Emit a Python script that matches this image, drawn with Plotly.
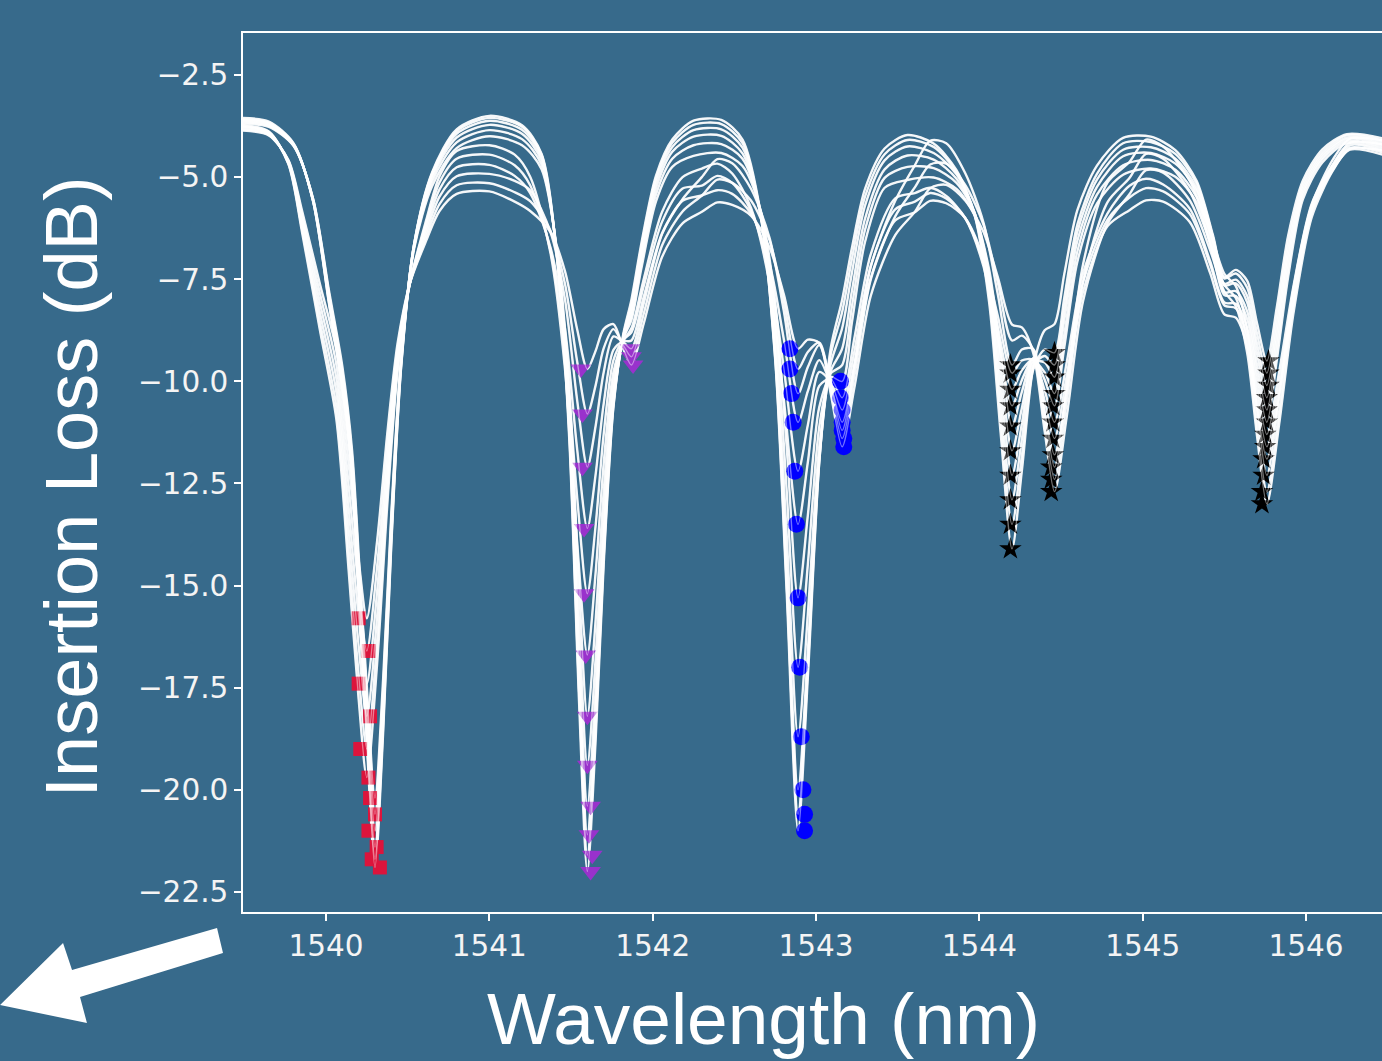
import plotly.graph_objects as go

# ---------------- data (read / estimated from the reference picture) ----------------
# sample wavelengths for the six deeper spectra
wavelength_nm_a = [
    1539.49, 1539.65, 1539.8, 1539.92, 1540.02, 1540.1, 1540.16, 1540.21, 1540.25, 1540.30,
    1540.35, 1540.40, 1540.46, 1540.54, 1540.65, 1540.8,
    1541.0, 1541.2, 1541.32, 1541.42, 1541.49, 1541.55, 1541.6, 1541.65, 1541.7, 1541.76,
    1541.82, 1541.87, 1541.93, 1542.02, 1542.12,
    1542.25, 1542.42, 1542.55, 1542.66, 1542.75, 1542.82, 1542.89, 1542.95, 1543.02, 1543.09,
    1543.16, 1543.22, 1543.3, 1543.42,
    1543.56, 1543.72, 1543.86, 1543.97, 1544.06, 1544.13, 1544.2, 1544.26, 1544.33, 1544.4,
    1544.46, 1544.52, 1544.6, 1544.72,
    1544.88, 1545.05, 1545.2, 1545.33, 1545.43, 1545.5, 1545.57, 1545.64, 1545.7, 1545.76,
    1545.82, 1545.89, 1545.98, 1546.1, 1546.25, 1546.47,
]
# sample wavelengths for the six shallower (broader-dip) spectra
wavelength_nm_b = [
    1539.49, 1539.65, 1539.77, 1539.854, 1539.963, 1540.063, 1540.138, 1540.20, 1540.25, 1540.313,
    1540.375, 1540.438, 1540.513, 1540.613, 1540.695, 1540.8,
    1541.0, 1541.155, 1541.25, 1541.375, 1541.463, 1541.538, 1541.6, 1541.65, 1541.7, 1541.76,
    1541.82, 1541.87, 1541.945, 1542.058, 1542.183,
    1542.301, 1542.396, 1542.487, 1542.603, 1542.715, 1542.803, 1542.89, 1542.95, 1543.02, 1543.09,
    1543.16, 1543.235, 1543.335, 1543.485,
    1543.605, 1543.699, 1543.797, 1543.913, 1544.025, 1544.113, 1544.2, 1544.26, 1544.33, 1544.4,
    1544.46, 1544.535, 1544.635, 1544.785,
    1544.919, 1545.02, 1545.125, 1545.288, 1545.413, 1545.5, 1545.57, 1545.64, 1545.7, 1545.76,
    1545.835, 1545.923, 1546.035, 1546.163, 1546.268, 1546.47,
]

il_curve_01 = [-3.55, -3.64, -4.16, -5.57, -8.14, -10.16, -12.45, -16.03, -18.87, -21.9, -18.59, -13.99, -9.66, -6.63, -4.88, -3.83,
               -3.5, -3.73, -4.43, -7.21, -11.46, -17.91, -22.0, -18.85, -14.49, -10.62, -8.84, -8.0, -6.64, -4.97, -4.08,
               -3.62, -3.6, -4.08, -5.86, -9.47, -15.13, -21.0, -17.24, -11.98, -9.19, -8.0, -6.73, -5.29, -4.3,
               -3.97, -4.18, -4.83, -5.92, -8.07, -11.25, -14.1, -12.19, -9.65, -8.75, -8.6, -7.37, -5.81, -4.72,
               -4.04, -4.01, -4.34, -5.09, -6.42, -7.45, -7.27, -7.54, -8.58, -9.5, -8.21, -6.44, -5.09, -4.32, -3.95, -4.05]
il_curve_02 = [-3.58, -3.67, -4.18, -5.57, -8.11, -10.1, -12.37, -15.9, -18.71, -21.7, -18.43, -13.9, -9.63, -6.64, -4.91, -3.88,
               -3.55, -3.77, -4.46, -7.17, -11.31, -17.61, -21.6, -18.54, -14.32, -10.58, -8.89, -8.11, -6.74, -5.05, -4.16,
               -3.72, -3.7, -4.17, -5.91, -9.41, -14.9, -20.6, -17.0, -11.96, -9.35, -8.3, -7.0, -5.48, -4.44,
               -4.09, -4.26, -4.87, -5.9, -7.88, -10.83, -13.5, -11.83, -9.71, -9.22, -9.3, -7.95, -6.16, -4.92,
               -4.17, -4.14, -4.43, -5.16, -6.47, -7.48, -7.36, -7.71, -8.83, -9.8, -8.47, -6.64, -5.18, -4.39, -3.98, -4.1]
il_curve_03 = [-3.6, -3.69, -4.19, -5.56, -8.05, -10.01, -12.23, -15.7, -18.46, -21.4, -18.2, -13.75, -9.58, -6.64, -4.95, -3.94,
               -3.62, -3.84, -4.52, -7.15, -11.16, -17.23, -21.1, -18.15, -14.09, -10.51, -8.92, -8.2, -6.85, -5.15, -4.26,
               -3.85, -3.83, -4.28, -5.93, -9.27, -14.53, -20.0, -16.6, -11.89, -9.57, -8.7, -7.34, -5.7, -4.59,
               -4.25, -4.41, -4.93, -5.86, -7.7, -10.42, -12.9, -11.42, -9.61, -9.38, -9.6, -8.22, -6.34, -5.06,
               -4.33, -4.27, -4.55, -5.27, -6.59, -7.61, -7.51, -7.91, -9.08, -10.1, -8.72, -6.83, -5.27, -4.45, -4.03, -4.15]
il_curve_04 = [-3.63, -3.72, -4.2, -5.54, -7.97, -9.88, -12.05, -15.44, -18.13, -21.0, -17.89, -13.57, -9.51, -6.66, -5.02, -4.03,
               -3.72, -3.94, -4.6, -7.11, -10.92, -16.71, -20.4, -17.61, -13.77, -10.4, -8.96, -8.3, -6.97, -5.28, -4.38,
               -4.01, -3.99, -4.42, -5.9, -8.95, -13.72, -18.7, -15.7, -11.59, -9.75, -9.2, -7.78, -6.02, -4.81,
               -4.47, -4.57, -5.04, -5.87, -7.55, -10.02, -12.3, -11.04, -9.53, -9.54, -9.9, -8.49, -6.56, -5.24,
               -4.49, -4.41, -4.67, -5.34, -6.64, -7.65, -7.6, -8.07, -9.32, -10.4, -8.97, -7.01, -5.36, -4.51, -4.07, -4.2]
il_curve_05 = [-3.66, -3.74, -4.22, -5.52, -7.9, -9.76, -11.88, -15.18, -17.8, -20.6, -17.59, -13.4, -9.46, -6.7, -5.11, -4.15,
               -3.85, -4.07, -4.7, -7.04, -10.59, -15.96, -19.4, -16.83, -13.29, -10.23, -8.96, -8.4, -7.1, -5.43, -4.55,
               -4.22, -4.19, -4.55, -5.82, -8.49, -12.64, -17.0, -14.48, -11.11, -9.81, -9.6, -8.16, -6.29, -5.02,
               -4.75, -4.78, -5.14, -5.87, -7.4, -9.63, -11.7, -10.66, -9.5, -9.78, -10.3, -8.86, -6.82, -5.43,
               -4.71, -4.58, -4.82, -5.49, -6.8, -7.82, -7.79, -8.29, -9.59, -10.7, -9.24, -7.23, -5.44, -4.57, -4.12, -4.25]
il_curve_06 = [-3.69, -3.77, -4.23, -5.51, -7.82, -9.63, -11.7, -14.92, -17.48, -20.2, -17.28, -13.23, -9.43, -6.75, -5.22, -4.29,
               -4.0, -4.22, -4.81, -6.96, -10.2, -15.07, -18.2, -15.89, -12.71, -10.0, -8.95, -8.5, -7.25, -5.6, -4.75,
               -4.48, -4.41, -4.73, -5.8, -8.06, -11.58, -15.3, -13.28, -10.63, -9.89, -10.0, -8.55, -6.59, -5.26,
               -5.07, -5.01, -5.29, -5.93, -7.27, -9.25, -11.1, -10.26, -9.43, -9.96, -10.6, -9.16, -7.07, -5.65,
               -4.94, -4.79, -4.99, -5.62, -6.9, -7.89, -7.91, -8.48, -9.84, -11.0, -9.51, -7.45, -5.55, -4.64, -4.17, -4.3]
il_curve_07 = [-3.72, -3.88, -4.68, -6.36, -8.75, -10.91, -14.59, -17.78, -19.7, -16.91, -13.04, -9.78, -7.61, -6.06, -4.98, -4.36,
               -4.22, -4.45, -4.99, -6.87, -9.69, -13.96, -16.7, -14.72, -12.02, -9.77, -9.01, -8.7, -7.5, -5.85, -5.0,
               -4.79, -4.67, -4.91, -5.76, -7.6, -10.45, -13.5, -11.98, -10.11, -9.94, -10.4, -8.94, -6.89, -5.52,
               -5.39, -5.26, -5.46, -6.0, -7.18, -8.94, -10.6, -9.97, -9.44, -10.22, -11.0, -9.53, -7.35, -5.89,
               -5.21, -5.04, -5.18, -5.77, -7.06, -8.07, -8.1, -8.7, -10.1, -11.3, -9.77, -7.67, -5.65, -4.7, -4.22, -4.35]
il_curve_08 = [-3.75, -3.9, -4.67, -6.27, -8.55, -10.61, -14.12, -17.17, -19.0, -16.37, -12.72, -9.66, -7.61, -6.15, -5.13, -4.55,
               -4.45, -4.71, -5.2, -6.81, -9.22, -12.85, -15.2, -13.56, -11.3, -9.48, -8.98, -8.8, -7.67, -6.09, -5.28,
               -5.21, -4.97, -5.14, -5.83, -7.34, -9.68, -12.2, -11.07, -9.77, -10.01, -10.7, -9.26, -7.18, -5.79,
               -5.6, -5.39, -5.52, -6.0, -7.08, -8.67, -10.2, -9.73, -9.46, -10.48, -11.4, -9.86, -7.57, -6.04,
               -5.5, -5.27, -5.35, -5.9, -7.14, -8.14, -8.21, -8.89, -10.36, -11.6, -10.04, -7.88, -5.74, -4.76, -4.28, -4.4]
il_curve_09 = [-3.77, -3.91, -4.64, -6.15, -8.32, -10.26, -13.58, -16.47, -18.2, -15.76, -12.36, -9.51, -7.61, -6.25, -5.3, -4.76,
               -4.7, -4.97, -5.39, -6.73, -8.7, -11.67, -13.6, -12.3, -10.55, -9.23, -9.02, -9.0, -7.93, -6.37, -5.58,
               -5.45, -5.32, -5.41, -5.9, -7.11, -8.97, -11.0, -10.24, -9.48, -10.08, -11.0, -9.58, -7.47, -6.06,
               -5.86, -5.58, -5.64, -6.0, -6.98, -8.4, -9.8, -9.49, -9.48, -10.75, -11.8, -10.21, -7.8, -6.2,
               -5.81, -5.57, -5.6, -6.1, -7.35, -8.36, -8.44, -9.14, -10.63, -11.9, -10.31, -8.12, -5.86, -4.82, -4.33, -4.45]
il_curve_10 = [-3.8, -3.94, -4.62, -6.04, -8.08, -9.92, -13.05, -15.77, -17.4, -15.14, -12.0, -9.37, -7.61, -6.36, -5.48, -4.98,
               -4.92, -5.09, -5.32, -6.35, -7.99, -10.47, -12.1, -11.11, -9.78, -8.9, -9.04, -9.2, -8.1, -6.39, -5.54,
               -5.0, -4.56, -4.66, -5.29, -6.48, -8.28, -10.3, -9.65, -9.11, -10.03, -11.2, -9.6, -7.19, -5.58,
               -4.71, -4.11, -4.17, -4.9, -6.11, -7.87, -9.6, -9.22, -9.21, -10.78, -12.1, -10.11, -7.13, -5.13,
               -4.63, -4.08, -4.25, -5.09, -6.34, -7.37, -7.67, -8.74, -10.69, -12.3, -10.4, -7.74, -5.69, -4.58, -4.06, -4.1]
il_curve_11 = [-3.83, -3.96, -4.6, -5.94, -7.85, -9.58, -12.51, -15.07, -16.6, -14.53, -11.65, -9.23, -7.61, -6.46, -5.66, -5.2,
               -5.15, -5.37, -5.59, -6.32, -7.61, -9.52, -10.8, -10.11, -9.19, -8.72, -9.11, -9.4, -8.35, -6.67, -5.84,
               -5.45, -5.06, -5.14, -5.58, -6.54, -8.03, -9.7, -9.28, -9.05, -10.15, -11.4, -9.86, -7.51, -5.96,
               -5.25, -4.69, -4.67, -5.19, -6.16, -7.58, -9.0, -8.88, -9.22, -11.0, -12.4, -10.49, -7.56, -5.61,
               -5.02, -4.43, -4.55, -5.35, -6.61, -7.64, -7.96, -9.07, -11.05, -12.7, -10.76, -8.06, -5.82, -4.7, -4.16, -4.2]
il_curve_12 = [-3.86, -3.98, -4.58, -5.83, -7.62, -9.23, -11.98, -14.37, -15.8, -13.91, -11.29, -9.08, -7.61, -6.56, -5.83, -5.41,
               -5.35, -5.6, -5.83, -6.35, -7.3, -8.73, -9.7, -9.26, -8.72, -8.6, -9.2, -9.6, -8.59, -6.95, -6.13,
               -5.85, -5.62, -5.68, -5.95, -6.72, -7.87, -9.2, -8.98, -9.06, -10.3, -11.6, -10.15, -7.91, -6.42,
               -5.85, -5.27, -5.19, -5.57, -6.34, -7.45, -8.61, -8.68, -9.31, -11.23, -12.7, -10.86, -8.03, -6.13,
               -5.42, -4.83, -4.89, -5.57, -6.79, -7.8, -8.16, -9.31, -11.34, -13.0, -11.06, -8.33, -5.98, -4.85, -4.31, -4.35]

# resonance minima markers
red_square_wl = [1540.33, 1540.28, 1540.31, 1540.26, 1540.30, 1540.27, 1540.26, 1540.21, 1540.27, 1540.20, 1540.26, 1540.20]
red_square_il = [-21.9, -21.7, -21.4, -21.0, -20.6, -20.2, -19.7, -19.0, -18.2, -17.4, -16.6, -15.8]

purple_tri_wl = [1541.62, 1541.63, 1541.61, 1541.62, 1541.60, 1541.60, 1541.59, 1541.58, 1541.58, 1541.57, 1541.57, 1541.56,
                 1541.86, 1541.87, 1541.88]
purple_tri_il = [-22.0, -21.6, -21.1, -20.4, -19.4, -18.2, -16.7, -15.2, -13.6, -12.1, -10.8, -9.7,
                 -9.2, -9.4, -9.6]

blue_circle_wl = [1542.93, 1542.93, 1542.92, 1542.91, 1542.90, 1542.89, 1542.88, 1542.87, 1542.86, 1542.85, 1542.84, 1542.84,
                  1543.15, 1543.15, 1543.16, 1543.16, 1543.16, 1543.17, 1543.17]
blue_circle_il = [-21.0, -20.6, -20.0, -18.7, -17.0, -15.3, -13.5, -12.2, -11.0, -10.3, -9.7, -9.2,
                  -10.0, -10.4, -10.7, -11.0, -11.2, -11.4, -11.6]

black_star_wl = [1544.19, 1544.19, 1544.19, 1544.19, 1544.19, 1544.19, 1544.19, 1544.19, 1544.19, 1544.19,
                 1544.46, 1544.46, 1544.46, 1544.46, 1544.45, 1544.45, 1544.45, 1544.45, 1544.44, 1544.44, 1544.44,
                 1545.77, 1545.77, 1545.77, 1545.76, 1545.76, 1545.76, 1545.75, 1545.75, 1545.74, 1545.74, 1545.73, 1545.73]
black_star_il = [-14.1, -13.5, -12.9, -12.3, -11.7, -11.1, -10.6, -10.2, -9.8, -9.6,
                 -9.3, -9.6, -9.9, -10.3, -10.6, -11.0, -11.4, -11.8, -12.1, -12.4, -12.7,
                 -9.5, -9.8, -10.1, -10.4, -10.7, -11.0, -11.3, -11.6, -11.9, -12.3, -12.7, -13.0]

x_ticks = [1540, 1541, 1542, 1543, 1544, 1545, 1546]
y_ticks = [-2.5, -5.0, -7.5, -10.0, -12.5, -15.0, -17.5, -20.0, -22.5]

spectra = [(wavelength_nm_a, il_curve_01), (wavelength_nm_a, il_curve_02), (wavelength_nm_a, il_curve_03),
           (wavelength_nm_a, il_curve_04), (wavelength_nm_a, il_curve_05), (wavelength_nm_a, il_curve_06),
           (wavelength_nm_b, il_curve_07), (wavelength_nm_b, il_curve_08), (wavelength_nm_b, il_curve_09),
           (wavelength_nm_b, il_curve_10), (wavelength_nm_b, il_curve_11), (wavelength_nm_b, il_curve_12)]

# ---------------- figure ----------------
BG = "#376a8b"
fig = go.Figure()


def add_lines(color, width):
    for wl, il in spectra:
        fig.add_trace(go.Scatter(x=wl, y=il, mode="lines",
                                 line=dict(color=color, width=width, shape="spline", smoothing=0.8),
                                 showlegend=False, hoverinfo="skip"))


add_lines("rgba(255,255,255,0.92)", 2.4)

marker_sets = [
    (red_square_wl, red_square_il, "square", "#dc143c", 14),
    (purple_tri_wl, purple_tri_il, "triangle-down", "#9932cc", 18),
    (blue_circle_wl, blue_circle_il, "circle", "#0000ff", 17),
    (black_star_wl, black_star_il, "star", "#000000", 17),
]
for xs, ys, sym, col, sz in marker_sets:
    fig.add_trace(go.Scatter(x=xs, y=ys, mode="markers",
                             marker=dict(symbol=sym, color=col, size=sz, line=dict(width=0)),
                             showlegend=False, hoverinfo="skip"))

# faint white strokes crossing the markers, as in the original rendering
add_lines("rgba(255,255,255,0.45)", 1.4)

tick_font = dict(family="DejaVu Sans", size=29.5, color="#f4f4f4")

fig.update_layout(
    width=1382, height=1061,
    margin=dict(l=243, r=0, t=33, b=149, pad=0),
    paper_bgcolor=BG, plot_bgcolor=BG,
    xaxis=dict(range=[1539.492, 1546.465], tickvals=x_ticks, tickformat="d",
               showgrid=False, zeroline=False, showline=True, linecolor="white", linewidth=1.6,
               mirror=True, ticks="outside", ticklen=7, tickwidth=1.5, tickcolor="white",
               tickfont=tick_font),
    yaxis=dict(range=[-22.99, -1.472], tickvals=y_ticks, tickformat=".1f",
               showgrid=False, zeroline=False, showline=True, linecolor="white", linewidth=1.6,
               mirror=False, ticks="outside", ticklen=7, tickwidth=1.5, tickcolor="white",
               tickfont=tick_font),
    annotations=[
        dict(text="Insertion Loss (dB)", xref="paper", yref="paper", x=-0.1506, y=0.4835,
             xanchor="center", yanchor="middle", textangle=-90, showarrow=False,
             font=dict(family="Liberation Sans", size=74, color="white")),
        dict(text="Wavelength (nm)", xref="paper", yref="paper", x=0.4574, y=-0.0725,
             xanchor="center", yanchor="top", showarrow=False,
             font=dict(family="Liberation Sans", size=73, color="white")),
    ],
    shapes=[
        dict(type="path", xref="paper", yref="paper",
             path="M -0.0228,-0.0182 L -0.01756,-0.04664 L -0.1431,-0.0967 L -0.1370,-0.1263 "
                  "L -0.2133,-0.1058 L -0.1580,-0.0353 L -0.1501,-0.0660 Z",
             fillcolor="white", line=dict(width=0)),
    ],
)

fig.write_html("out.html", config={"displayModeBar": False})
